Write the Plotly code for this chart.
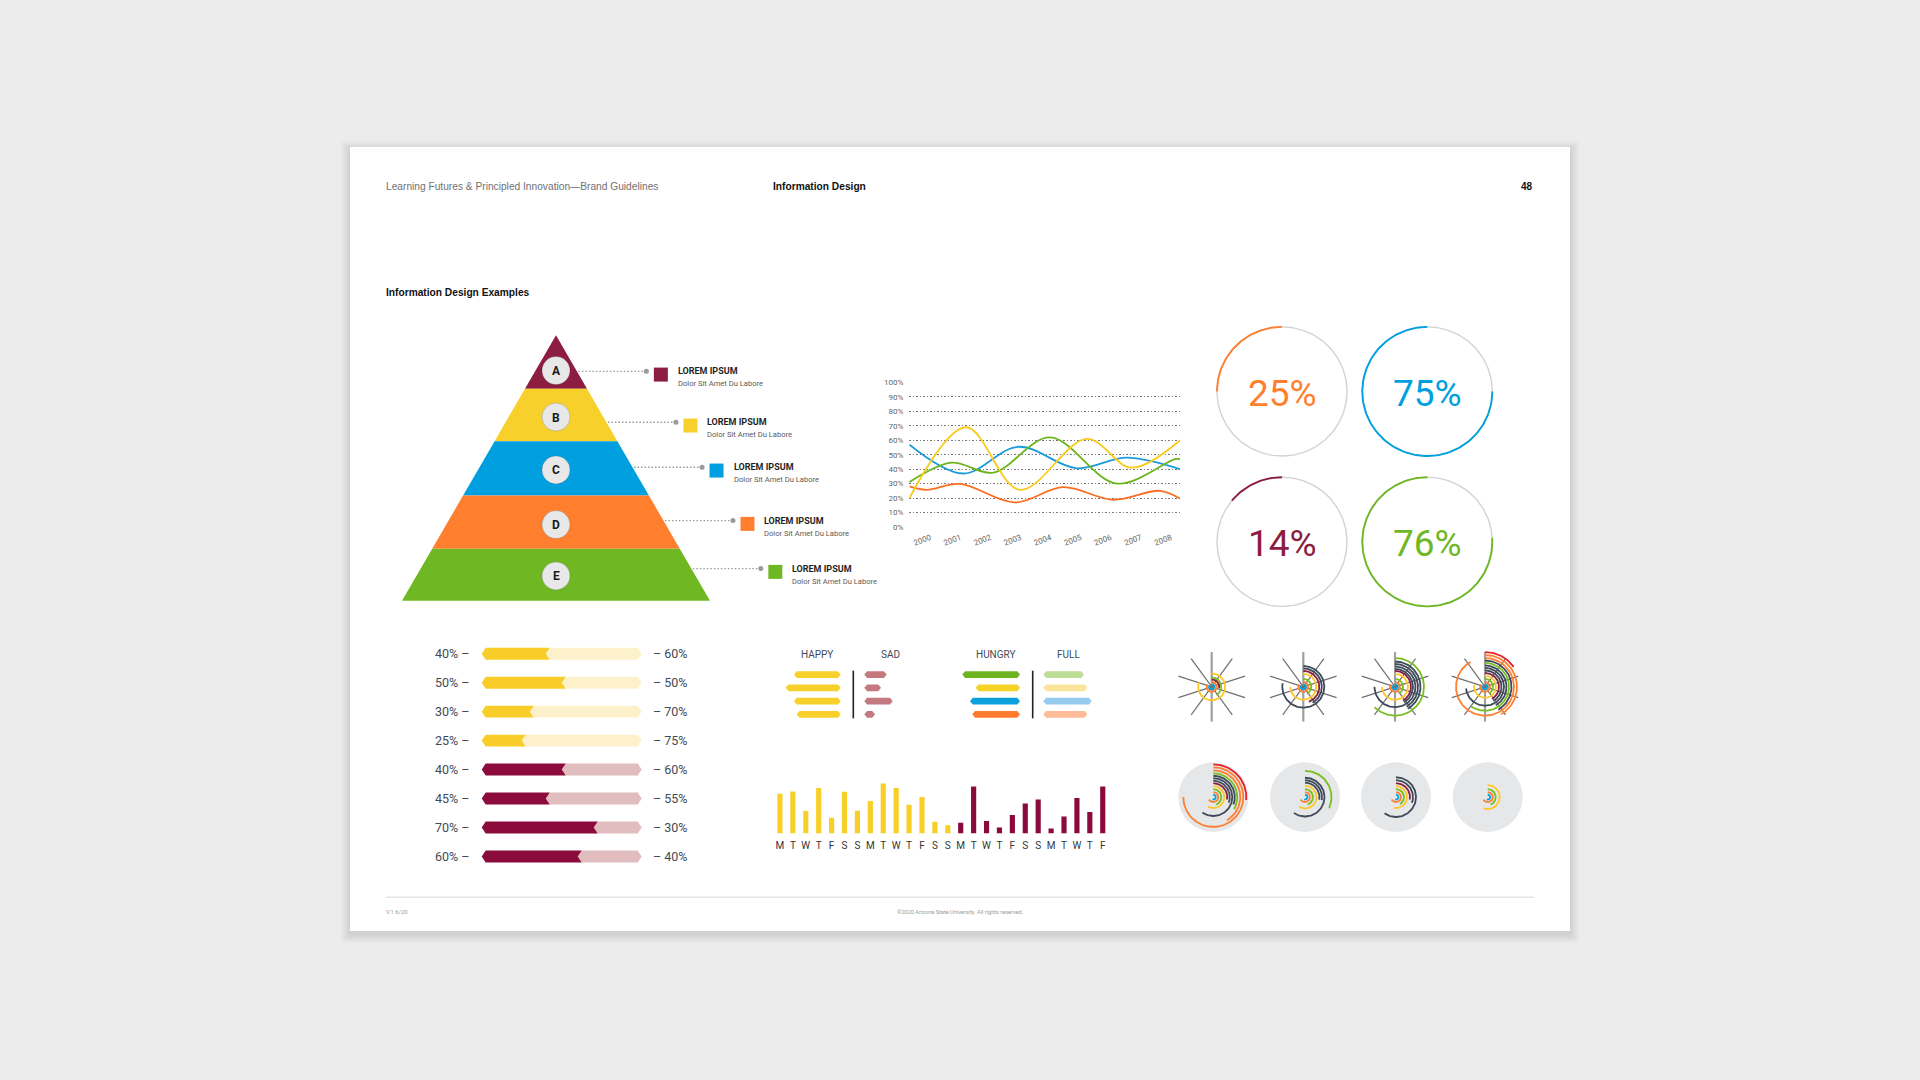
import numpy as np
import plotly.graph_objects as go

W, H = 1920, 1080
COND = "Roboto, 'Liberation Sans', Arial, sans-serif"
SANS = "'Liberation Sans', Arial, Helvetica, sans-serif"

# ------------------------------------------------------------------ data
header_left = "Learning Futures & Principled Innovation\u2014Brand Guidelines"
header_mid = "Information Design"
page_no = "48"
section_title = "Information Design Examples"
footer_left = "V.1 6/20"
footer_mid = "\u00a92020 Arizona State University. All rights reserved."

pyramid_letters = ["A", "B", "C", "D", "E"]
pyramid_titles = ["LOREM IPSUM"] * 5
pyramid_subtitles = ["Dolor Sit Amet Du Labore"] * 5

line_years = [2000, 2001, 2002, 2003, 2004, 2005, 2006, 2007, 2008]
line_pct_ticks = [0, 10, 20, 30, 40, 50, 60, 70, 80, 90, 100]
blue_x = [1999.54, 2001.33, 2003.16, 2005.10, 2006.76, 2008.53]
blue_y = [57, 37, 55.5, 40.6, 48, 40]
yellow_x = [1999.54, 2001.42, 2003.21, 2005.43, 2006.92, 2008.53]
yellow_y = [20, 69, 25.7, 61, 41, 60]
green_x = [1999.54, 2000.94, 2002.33, 2004.21, 2006.43, 2008.36, 2008.53]
green_y = [31, 44.5, 37.6, 62, 30, 47, 47]
orange_x = [1999.54, 2000.11, 2001.22, 2003.05, 2004.65, 2006.31, 2007.86, 2008.53]
orange_y = [28, 25.7, 29.8, 17, 27.5, 18.8, 25, 19.7]

gauge_values = [25, 75, 14, 76]
gauge_labels = ["25%", "75%", "14%", "76%"]

split_values = [40, 50, 30, 25, 50, 40, 70, 60]
split_left_labels = ["40%", "50%", "30%", "25%", "40%", "45%", "70%", "60%"]
split_right_labels = ["60%", "50%", "70%", "75%", "60%", "55%", "30%", "40%"]

mood_headers = ["HAPPY", "SAD", "HUNGRY", "FULL"]
happy = [46.7, 55, 46.7, 44]
sad = [22.4, 16.7, 28.4, 10.7]
hungry = [57.7, 44.3, 50, 47.7]
full = [40.7, 44, 48.4, 44]

day_labels = ["M", "T", "W", "T", "F", "S", "S", "M", "T", "W", "T", "F", "S", "S",
              "M", "T", "W", "T", "F", "S", "S", "M", "T", "W", "T", "F"]
day_values = [40, 42.3, 22.7, 46, 16, 42, 23, 32.7, 50.3, 46, 29, 36.7, 12, 8.3,
              11, 47.3, 12.7, 6, 18.7, 30.3, 34.3, 5, 17.3, 35.7, 21.7, 47.3]

# arcs for radial icons: (radius px, sweep deg clockwise from 12 o'clock, colour key)
spiral_top = [
    [(2.5, 300, "B"), (5, 300, "O"), (7.5, 100, "M"), (9.5, 150, "G"), (13.5, 290, "Y")],
    [(2.5, 300, "B"), (5, 300, "O"), (8, 150, "G"), (13, 270, "Y"), (16, 160, "M"),
     (18.5, 150, "N"), (21, 280, "N")],
    [(2.5, 300, "B"), (5, 300, "O"), (8, 150, "G"), (13, 270, "Y"), (16, 150, "M"),
     (18, 150, "N"), (20.5, 270, "N"), (23, 150, "N"), (25.5, 150, "N"), (29, 225, "G")],
    [(2.5, 300, "B"), (5, 300, "O"), (8, 150, "G"), (11, 280, "Y"), (14, 150, "M"),
     (16.5, 150, "N"), (19, 265, "N"), (21.5, 150, "N"), (24, 215, "G"), (26.5, 150, "N"),
     (29, 330, "O"), (32, 150, "O"), (35, 55, "R")],
]
spiral_bottom = [
    [(2.5, 200, "B"), (5, 240, "O"), (8, 160, "G"), (11, 210, "Y"), (14, 100, "M"),
     (16.5, 110, "N"), (19, 215, "N"), (21.5, 110, "N"), (24, 120, "G"), (27, 150, "O"),
     (30, 270, "O"), (33, 95, "R")],
    [(2.5, 200, "B"), (5, 240, "O"), (8, 160, "G"), (11.5, 210, "Y"), (14.5, 100, "N"),
     (17, 100, "N"), (19.5, 215, "N"), (26.5, 115, "G")],
    [(2.5, 200, "B"), (5, 240, "O"), (8, 150, "G"), (11, 190, "Y"), (14, 100, "M"),
     (17, 110, "N"), (20, 215, "N")],
    [(2.5, 200, "B"), (5, 240, "O"), (8, 160, "G"), (12, 200, "Y")],
]

# ------------------------------------------------------------------ styles
MAROON = "#8C1D40"
GOLD = "#F7D02B"
BLUE = "#00A0E0"
ORANGE = "#FF7F2F"
GREEN = "#6FB823"
PAL = {"B": "#00A3E0", "O": "#FF7F32", "G": "#78BE20", "Y": "#FFC627",
       "M": "#8C1D40", "N": "#3E4A59", "R": "#E8202A"}
pyramid_colors = [MAROON, GOLD, BLUE, ORANGE, GREEN]
gauge_colors = [ORANGE, BLUE, MAROON, GREEN]
TXT = "#3F4A57"

fig = go.Figure()
shapes = []
annos = []


def text(x, y, s, size, color="#222", family=COND, xanchor="left", yanchor="middle", bold=False,
         xref="x", yref="y"):
    if bold:
        s = "<b>" + s + "</b>"
    annos.append(dict(x=x, y=y, xref=xref, yref=yref, text=s, showarrow=False,
                      xanchor=xanchor, yanchor=yanchor, borderpad=0,
                      font=dict(family=family, size=size, color=color)))


def arc_pts(cx, cy, r, sweep, clockwise=True, start=0.0):
    n = max(6, int(abs(sweep) / 2) + 1)
    t = np.linspace(0, sweep, n)
    a = np.radians(start + (t if clockwise else -t))
    return cx + r * np.sin(a), cy - r * np.cos(a)


def line_trace(x, y, color, width, xa="x", ya="y", dash=None, shape="linear"):
    fig.add_trace(go.Scatter(x=list(x), y=list(y), mode="lines", xaxis=xa, yaxis=ya,
                             line=dict(color=color, width=width, dash=dash, shape=shape),
                             hoverinfo="skip", showlegend=False))


def poly_trace(x, y, color, xa="x", ya="y"):
    fig.add_trace(go.Scatter(x=list(x) + [x[0]], y=list(y) + [y[0]], mode="lines", fill="toself",
                             fillcolor=color, line=dict(width=0, color=color), xaxis=xa, yaxis=ya,
                             hoverinfo="skip", showlegend=False))


def hexbar(x0, x1, yc, h, d):
    xs = [x0, x0 + d, x1 - d, x1, x1 - d, x0 + d]
    ys = [yc, yc - h, yc - h, yc, yc + h, yc + h]
    return xs, ys


# ------------------------------------------------------------------ page
PX0, PY0, PX1, PY1 = 350, 145, 1570, 934
for k in range(1, 10):
    shapes.append(dict(type="rect", xref="x", yref="y", x0=PX0 - k, x1=PX1 + k, y0=PY0 - k + 3,
                       y1=PY1 + k + 3, fillcolor="rgba(0,0,0,0.012)", line=dict(width=0),
                       layer="below"))
shapes.append(dict(type="rect", xref="x", yref="y", x0=PX0, x1=PX1, y0=PY0, y1=PY1,
                   fillcolor="white", line=dict(width=0), layer="below"))

text(385, 185, header_left, 10.2, "#707174", SANS)
text(772, 185, header_mid, 10.2, "#111", SANS, bold=True)
text(1534, 185, page_no, 10, "#111", SANS, xanchor="right", bold=True)
text(385, 291, section_title, 10.2, "#111", SANS, bold=True)
shapes.append(dict(type="line", xref="x", yref="y", x0=386, x1=1534, y0=900, y1=900,
                   line=dict(color="#d8d8d8", width=1)))
text(385, 915, footer_left, 5.8, "#9a9a9a", COND)
text(960, 915, footer_mid, 5.6, "#9a9a9a", COND, xanchor="center")

# ------------------------------------------------------------------ pyramid
APX, APY, BASE_Y, HALF_BASE = 556.0, 334.5, 601.7, 154.0
bounds = [334.5, 388.3, 441.0, 495.7, 549.3, 601.7]
circle_y = [370.0, 416.7, 470.0, 525.0, 576.7]
leader_y = [370.7, 422.0, 467.3, 521.0, 569.3]


def half_w(y):
    return (y - APY) / (BASE_Y - APY) * HALF_BASE


for i, col in enumerate(pyramid_colors):
    ya, yb = bounds[i], bounds[i + 1]
    wa, wb = half_w(ya), half_w(yb)
    poly_trace([APX - wa, APX + wa, APX + wb, APX - wb], [ya, ya, yb, yb], col)

fig.add_trace(go.Scatter(x=[APX] * 5, y=circle_y, mode="markers", xaxis="x", yaxis="y",
                         marker=dict(size=28, color="#e8e8e8",
                                     line=dict(color="rgba(0,0,0,0.15)", width=1)),
                         hoverinfo="skip", showlegend=False))
for i, L in enumerate(pyramid_letters):
    text(APX, circle_y[i] + 0.5, L, 12, "#1a1a1a", COND, xanchor="center", bold=True)

for i, ly in enumerate(leader_y):
    x0 = APX + half_w(ly) + 1.5
    x1 = x0 + 68
    line_trace([x0, x1], [ly, ly], "#9a9a9a", 1.3, dash="1.5px,2px")
    fig.add_trace(go.Scatter(x=[x1], y=[ly], mode="markers", xaxis="x", yaxis="y",
                             marker=dict(size=5, color="#9a9a9a"), hoverinfo="skip",
                             showlegend=False))
    fig.add_trace(go.Scatter(x=[x1 + 14.5], y=[ly + 3.3], mode="markers", xaxis="x", yaxis="y",
                             marker=dict(size=14, symbol="square", color=pyramid_colors[i]),
                             hoverinfo="skip", showlegend=False))
    text(x1 + 30.5, ly, pyramid_titles[i], 9, "#1f1f1f", COND, bold=True)
    text(x1 + 30.5, ly + 12.5, pyramid_subtitles[i], 7.6, "#5a5a5a", COND)

# ------------------------------------------------------------------ line chart (x2/y2)
for xs, ys, col in [(orange_x, orange_y, "#FA6E23"), (blue_x, blue_y, "#1A9BDB"),
                    (green_x, green_y, "#6DB51E"), (yellow_x, yellow_y, "#F8CB1C")]:
    line_trace(xs, ys, col, 1.8, xa="x2", ya="y2", shape="spline")

# ------------------------------------------------------------------ gauges
gauge_centers = [(1282, 391), (1427.3, 391), (1282, 542.3), (1427.3, 542.3)]
GR = 65
for (cx, cy), v, col, lab in zip(gauge_centers, gauge_values, gauge_colors, gauge_labels):
    gx, gy = arc_pts(cx, cy, GR, 360)
    line_trace(gx, gy, "#d2d3d5", 1.4)
    ax_, ay_ = arc_pts(cx, cy, GR, v * 3.6, clockwise=False)
    line_trace(ax_, ay_, col, 1.9)
    text(cx, cy + 2, lab, 37, col, COND, xanchor="center")

# ------------------------------------------------------------------ split bars (x3/y3)
for i, v in enumerate(split_values):
    dark, light = ("#F8CD29", "#FDF1CC") if i < 4 else ("#8A0B3C", "#E2BDBF")
    hh, dd = 0.206, 2.5
    xs, ys = hexbar(0, v + dd + 1, i, hh, dd)
    xs[3] = xs[2] = xs[4] = v + dd
    poly_trace(xs, ys, dark, "x3", "y3")
    xs, ys = hexbar(v, 100, i, hh, dd)
    poly_trace(xs, ys, light, "x3", "y3")
    text(-6.9, i, split_left_labels[i] + " \u2013", 12.5, TXT, COND, xanchor="right",
         xref="x3", yref="y3")
    text(106.6, i, "\u2013 " + split_right_labels[i], 12.5, TXT, COND, xanchor="left",
         xref="x3", yref="y3")

# ------------------------------------------------------------------ mood bars
mood_rows = [676, 689.3, 702.7, 716]
HAPPY_R, SAD_L, HUNGRY_R, FULL_L = 840.7, 864.3, 1020.0, 1043.3
mood_cols_h = [GOLD] * 4
mood_cols_s = ["#C47880"] * 4
mood_cols_hu = ["#6DB320", "#F5D327", "#0CA0DC", "#FF7A2E"]
mood_cols_f = ["#BEDD97", "#FBE59C", "#97CBEE", "#FDBB97"]
for i, yc in enumerate(mood_rows):
    for x0, x1, col in [(HAPPY_R - happy[i], HAPPY_R, mood_cols_h[i]),
                        (SAD_L, SAD_L + sad[i], mood_cols_s[i]),
                        (HUNGRY_R - hungry[i], HUNGRY_R, mood_cols_hu[i]),
                        (FULL_L, FULL_L + full[i], mood_cols_f[i])]:
        xs, ys = hexbar(x0, x1, yc, 3.4, 2.8)
        poly_trace(xs, ys, col)
line_trace([853.3, 853.3], [672, 720], "#222", 1.6)
line_trace([1032.7, 1032.7], [672, 720], "#222", 1.6)
for hx, lab in zip([816.7, 890, 996, 1068.3], mood_headers):
    text(hx, 656, lab, 10, TXT, COND, xanchor="center")

# ------------------------------------------------------------------ day bars (x4/y4)
day_colors = ["#F8CF26"] * 14 + ["#8B0A3C"] * 12
fig.add_trace(go.Bar(x=list(range(len(day_values))), y=day_values, xaxis="x4", yaxis="y4",
                     marker=dict(color=day_colors, line=dict(width=0)), width=0.4,
                     hoverinfo="skip", showlegend=False))

# ------------------------------------------------------------------ radial icons
top_centers = [(1211.7, 688.3), (1303.3, 688.3), (1395.0, 688.3), (1485.0, 688.3)]
bot_centers = [(1213.3, 799.3), (1305.0, 799.3), (1396.0, 799.3), (1487.7, 799.3)]
SR = 35
for (cx, cy), arcs in zip(top_centers, spiral_top):
    for k in range(5):
        a = np.radians(36 * k)
        xs = [cx - SR * np.sin(a), cx + SR * np.sin(a)]
        ys = [cy + SR * np.cos(a), cy - SR * np.cos(a)]
        if k == 0:
            line_trace(xs, ys, "#a0a0a0", 2.2)
        else:
            line_trace(xs, ys, "#707070", 1.2)
    for r, sw, ck in arcs:
        xs, ys = arc_pts(cx, cy, r, sw)
        line_trace(xs, ys, PAL[ck], 1.8)
for (cx, cy), arcs in zip(bot_centers, spiral_bottom):
    shapes.append(dict(type="circle", xref="x", yref="y", x0=cx - SR, x1=cx + SR,
                       y0=cy - SR, y1=cy + SR, fillcolor="#e6e7e9", line=dict(width=0),
                       layer="below"))
    for r, sw, ck in arcs:
        xs, ys = arc_pts(cx, cy, r, sw)
        line_trace(xs, ys, PAL[ck], 1.8)

# ------------------------------------------------------------------ layout


def dx(px):
    return px / W


def dy(py):
    return (H - py) / H


fig.update_layout(
    width=W, height=H, margin=dict(l=0, r=0, t=0, b=0),
    paper_bgcolor="#ececec", plot_bgcolor="rgba(0,0,0,0)",
    showlegend=False, shapes=shapes, annotations=annos,
    xaxis=dict(domain=[0, 1], range=[0, W], visible=False, fixedrange=True),
    yaxis=dict(domain=[0, 1], range=[H, 0], visible=False, fixedrange=True),
    xaxis2=dict(anchor="y2", domain=[dx(909.3), dx(1180)], range=[1999.536, 2008.53],
                tickvals=line_years, ticktext=[str(y) for y in line_years], tickangle=-20,
                showgrid=False, zeroline=False, showline=False, ticks="",
                ticklabelshift=7, ticklabelstandoff=3,
                tickfont=dict(family=COND, size=8, color="#666")),
    yaxis2=dict(anchor="x2", domain=[dy(528.2), dy(381.1)], range=[-0.6, 100.6],
                tickvals=line_pct_ticks, ticktext=[f"{v}%" for v in line_pct_ticks],
                showgrid=True, griddash="1.3px,2.2px", gridcolor="#7a7a7a", gridwidth=1,
                zeroline=False, showline=False, ticks="", ticklabelstandoff=5,
                tickfont=dict(family=COND, size=8, color="#666")),
    xaxis3=dict(anchor="y3", domain=[dx(449.7), dx(673.7)], range=[-20, 120], visible=False),
    yaxis3=dict(anchor="x3", domain=[dy(873.6), dy(640.4)], range=[7.5, -0.5], visible=False),
    xaxis4=dict(anchor="y4", domain=[dx(773.5), dx(1109.2)], range=[-0.5, 25.5],
                tickvals=list(range(len(day_labels))), ticktext=day_labels,
                showgrid=False, zeroline=False, showline=False, ticks="",
                ticklabelstandoff=4,
                tickfont=dict(family=COND, size=10, color="#333")),
    yaxis4=dict(anchor="x4", domain=[dy(836), dy(781)], range=[0, 55], visible=False),
)

fig.write_html("out.html")
